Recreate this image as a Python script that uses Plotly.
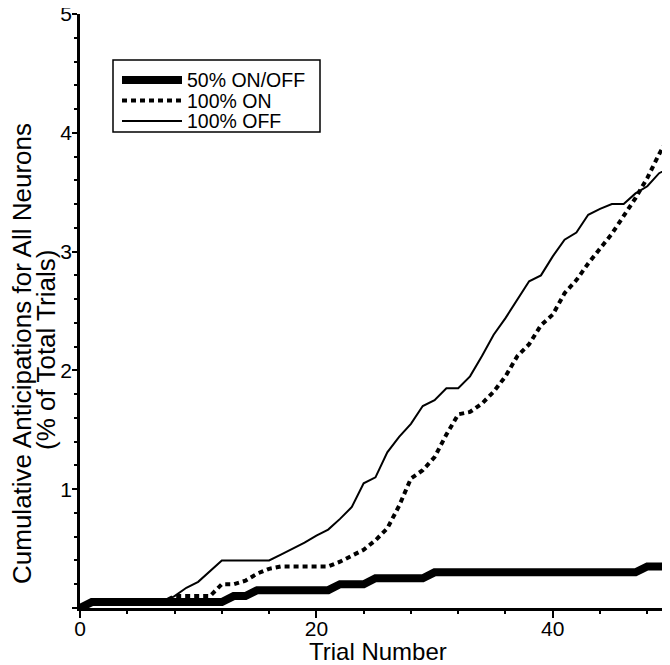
import plotly.graph_objects as go

trials = list(range(0, 51))

on_off_50 = [0.0] + [0.05] * 12 + [0.1] * 2 + [0.15] * 7 + [0.2] * 3 + [0.25] * 5 + [0.3] * 18 + [0.35] * 3

on_100 = [0.0, 0.05, 0.05, 0.05, 0.05, 0.05, 0.05, 0.05, 0.1, 0.1,
          0.1, 0.1, 0.2, 0.2, 0.23, 0.29, 0.33, 0.35, 0.35, 0.35,
          0.35, 0.35, 0.39, 0.44, 0.49, 0.57, 0.67, 0.86, 1.09, 1.16,
          1.27, 1.46, 1.63, 1.65, 1.72, 1.82, 1.95, 2.12, 2.22, 2.38,
          2.47, 2.65, 2.76, 2.9, 3.02, 3.15, 3.3, 3.45, 3.62, 3.82,
          4.0]

off_100 = [0.0, 0.05, 0.05, 0.05, 0.05, 0.05, 0.05, 0.05, 0.1, 0.17,
           0.22, 0.31, 0.4, 0.4, 0.4, 0.4, 0.4, 0.45, 0.5, 0.55,
           0.61, 0.66, 0.75, 0.85, 1.05, 1.1, 1.31, 1.44, 1.55, 1.7,
           1.75, 1.85, 1.85, 1.95, 2.12, 2.3, 2.44, 2.6, 2.75, 2.8,
           2.96, 3.1, 3.16, 3.31, 3.36, 3.4, 3.4, 3.49, 3.55, 3.66,
           3.71]

series_names = ["50% ON/OFF", "100% ON", "100% OFF"]
x_ticks = [0, 20, 40]
y_ticks = [0, 1, 2, 3, 4, 5]

FONT = "Liberation Sans, Arial, Helvetica, sans-serif"

# page body has an 8px default margin; compensate so the plot area sits at
# x 80..670, y 14..608 of the 670x665 window
OFF = 8
PL, PR, PT, PB = 80, 670, 14, 608
PW, PH = PR - PL, PB - PT


def px(x):
    return (x - PL) / PW


def py(y):
    return (PB - y) / PH


line_styles = [dict(color="black", width=8),
               dict(color="black", width=4, dash="5px,4px"),
               dict(color="black", width=2)]

fig = go.Figure()
for name, ys, ls in zip(series_names, [on_off_50, on_100, off_100], line_styles):
    fig.add_trace(go.Scatter(x=trials, y=ys, mode="lines", name=name, line=ls,
                             showlegend=False))

fig.update_layout(
    width=670 - OFF, height=665 - OFF,
    margin=dict(l=PL - OFF, r=0, t=PT - OFF, b=665 - PB, pad=0),
    paper_bgcolor="white", plot_bgcolor="white",
    font=dict(family=FONT, color="black", size=21),
    showlegend=False,
    xaxis=dict(range=[0, 49.92], tickvals=x_ticks, ticktext=[str(v) for v in x_ticks],
               showline=True, linecolor="black", linewidth=2.5, automargin=False,
               ticks="outside", ticklen=7, tickwidth=2, tickcolor="black",
               ticklabelstandoff=-7, ticklabeloverflow="allow",
               minor=dict(dtick=4, tick0=0, ticks="outside", ticklen=3, tickwidth=1.5, tickcolor="black"),
               showgrid=False, zeroline=False, tickfont=dict(size=21)),
    yaxis=dict(range=[0, 5], tickvals=y_ticks, ticktext=["", "1", "2", "3", "4", "5"],
               showline=True, linecolor="black", linewidth=2.5, automargin=False,
               ticks="outside", ticklen=5, tickwidth=2, tickcolor="black",
               ticklabelstandoff=-4, ticklabeloverflow="allow",
               minor=dict(dtick=0.2, tick0=0, ticks="outside", ticklen=3, tickwidth=1.5, tickcolor="black"),
               showgrid=False, zeroline=False, tickfont=dict(size=21)),
)

# axis titles
fig.add_annotation(text="Trial Number", xref="paper", yref="paper",
                   x=px(378), y=py(652), xanchor="center", yanchor="middle",
                   showarrow=False, borderpad=0, font=dict(size=24, family=FONT))
fig.add_annotation(text="Cumulative Anticipations for All Neurons", textangle=-90,
                   xref="paper", yref="paper", x=px(22), y=py(354),
                   xanchor="center", yanchor="middle", showarrow=False,
                   font=dict(size=26, family=FONT))
fig.add_annotation(text="(% of Total Trials)", textangle=-90,
                   xref="paper", yref="paper", x=px(46), y=py(350),
                   xanchor="center", yanchor="middle", showarrow=False,
                   font=dict(size=26, family=FONT))

# legend box (drawn by hand to match the compact original)
box_l, box_r, box_t, box_b = 113, 320, 60, 132
fig.add_shape(type="rect", xref="paper", yref="paper",
              x0=px(box_l), x1=px(box_r), y0=py(box_b), y1=py(box_t),
              line=dict(color="black", width=1.5), fillcolor="white", layer="above")
row_y = [80, 100.5, 121]
for name, ls, ry in zip(series_names, line_styles, row_y):
    fig.add_shape(type="line", xref="paper", yref="paper",
                  x0=px(122), x1=px(182), y0=py(ry), y1=py(ry),
                  line=ls, layer="above")
    fig.add_annotation(text=name, xref="paper", yref="paper",
                       x=px(186), y=py(ry), xanchor="left", yanchor="middle",
                       showarrow=False, borderpad=0, font=dict(size=19.5, family=FONT))

fig.write_html("out.html")
